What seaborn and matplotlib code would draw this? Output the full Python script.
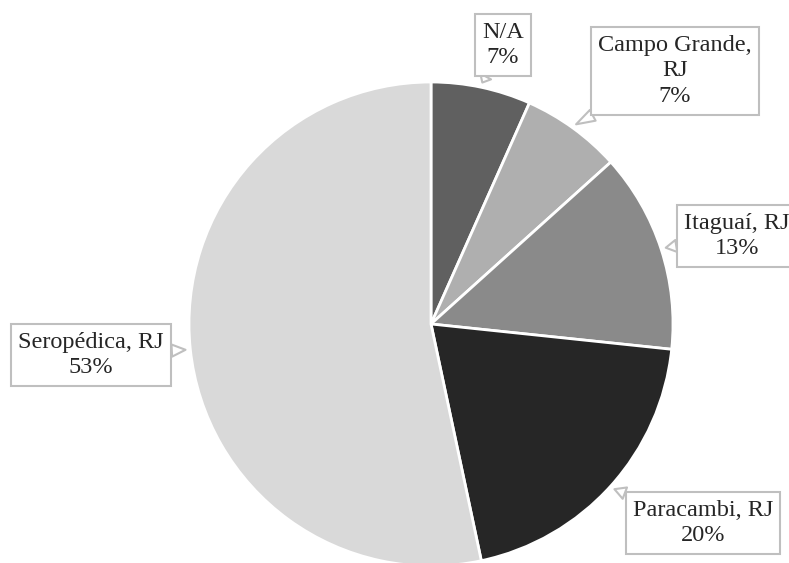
import numpy as np
import matplotlib
matplotlib.use("Agg")
import matplotlib.pyplot as plt
import seaborn as sns

# data (counts: 7%, 7%, 13%, 20%, 53%)
categories = ["N/A", "Campo Grande,\nRJ", "Itaguaí, RJ", "Paracambi, RJ", "Seropédica, RJ"]
counts = [1, 1, 2, 3, 8]
slice_colors = ["#606060", "#afafaf", "#8a8a8a", "#262626", "#d9d9d9"]

# label box centres in image pixels (x from left, y from top)
label_pos = [(503, 45), (675, 71), (737, 236), (703, 523), (91, 355)]

sns.set_style("white")
plt.rcParams["font.family"] = ["Liberation Serif", "DejaVu Serif"]

W, H = 789, 563
fig = plt.figure(figsize=(W / 100, H / 100), dpi=100)
cx, cy, r = 431, 324, 242
ax = fig.add_axes([(cx - r) / W, (H - cy - r) / H, 2 * r / W, 2 * r / H])

wedges, _ = ax.pie(counts, colors=slice_colors, startangle=90, counterclock=False,
                   wedgeprops=dict(edgecolor="white", linewidth=2))
ax.set_xlim(-1, 1)
ax.set_ylim(-1, 1)
ax.set_aspect("equal")
ax.axis("off")

total = sum(counts)
for w, cat, v, (px, py) in zip(wedges, categories, counts, label_pos):
    ang = np.deg2rad((w.theta1 + w.theta2) / 2)
    tip = (1.02 * np.cos(ang), 1.02 * np.sin(ang))
    txt = f"{cat}\n{round(v / total * 100)}%"
    ax.annotate(txt, xy=tip, xycoords="data", xytext=(px, H - py), textcoords="figure pixels",
                ha="center", va="center", multialignment="center", fontsize=17.5,
                linespacing=1.3, annotation_clip=False,
                bbox=dict(boxstyle="square,pad=0.3", fc="white", ec="#bfbfbf", lw=1.5),
                arrowprops=dict(arrowstyle="wedge,tail_width=0.5,shrink_factor=0.5",
                                fc="white", ec="#bfbfbf", lw=1.5, shrinkA=0, shrinkB=0))

fig.savefig("out.png", dpi=100)
